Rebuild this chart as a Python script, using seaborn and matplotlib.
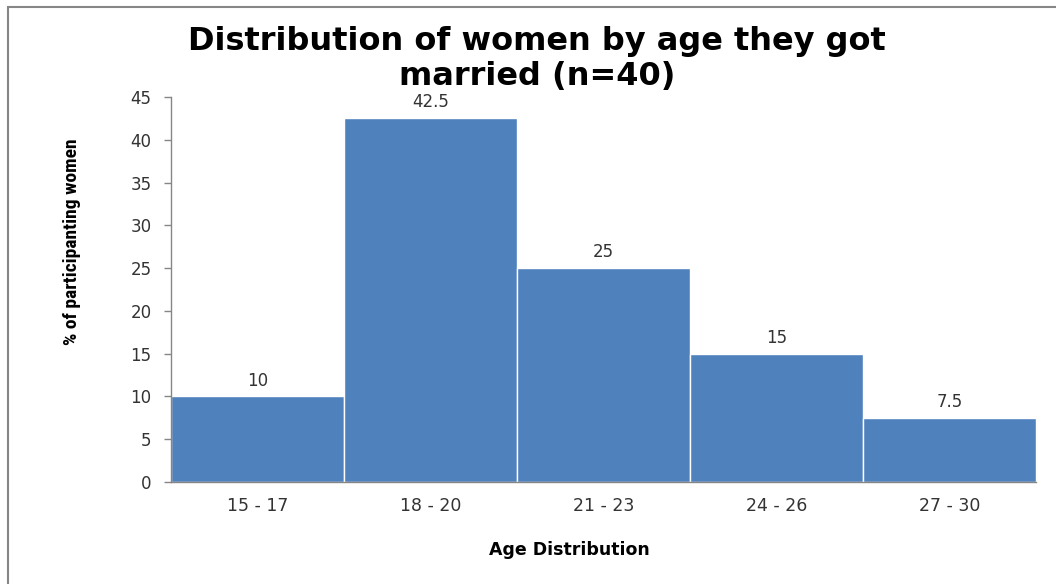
import matplotlib
matplotlib.use("Agg")
import matplotlib.pyplot as plt
import seaborn as sns
import pandas as pd
import numpy as np
from matplotlib.patches import Rectangle

categories = ["15 - 17", "18 - 20", "21 - 23", "24 - 26", "27 - 30"]
percentages = [10, 42.5, 25, 15, 7.5]
value_labels = ["10", "42.5", "25", "15", "7.5"]
y_ticks = [0, 5, 10, 15, 20, 25, 30, 35, 40, 45]

sns.set_theme(style="white")
plt.rcParams['font.family'] = ['DejaVu Sans']

df = pd.DataFrame({"age": categories, "pct": percentages})

fig = plt.figure(figsize=(10.56, 5.84), dpi=100)
ax = fig.add_axes([171/1056, (584-482)/584, (1036-171)/1056, (482-97)/584])

sns.barplot(data=df, x="age", y="pct", order=categories, color="#4F81BD",
            saturation=1, width=1.0, edgecolor="white", linewidth=1, ax=ax)

ax.set_xlim(-0.5, len(categories) - 0.5)
ax.set_ylim(0, 45)
ax.set_yticks(y_ticks)
ax.set_yticklabels([str(t) for t in y_ticks], fontsize=12, color="#333333")

ax.set_xticks(range(len(categories)))
ax.set_xticklabels(categories, fontsize=12.5, color="#333333")
ax.set_xticks(np.arange(-0.5, len(categories)), minor=True)
ax.tick_params(axis="x", which="major", length=0, pad=11)
ax.tick_params(axis="x", which="minor", length=4.5, color="#868686", width=1, direction="out")
ax.tick_params(axis="y", which="major", length=5, color="#868686", width=1, direction="out", left=True, pad=9)

for side in ["top", "right"]:
    ax.spines[side].set_visible(False)
for side in ["left", "bottom"]:
    ax.spines[side].set_color("#868686")
    ax.spines[side].set_linewidth(1)

for i, (v, lab) in enumerate(zip(percentages, value_labels)):
    ax.annotate(lab, (i, v), xytext=(0, 5), textcoords="offset points",
                ha="center", va="bottom", fontsize=12, color="#333333")

ax.set_xlabel("")
ax.set_ylabel("")
fig.text(569/1056, 1 - 550/584, "Age Distribution", ha="center", va="center",
         fontsize=12.5, fontweight="bold", color="black")
fig.text(72/1056, 1 - 242/584, "% of participanting women", ha="center", va="center",
         rotation=90, fontsize=14, fontweight="bold", color="black",
         family=["Liberation Sans Narrow", "Roboto Condensed", "Roboto"])

fig.text(537/1056, 1 - 59/584, "Distribution of women by age they got\nmarried (n=40)",
         ha="center", va="center", fontsize=23, fontweight="bold", linespacing=1.15,
         color="black")

fig.patches.append(Rectangle((8/1056, -0.1), 1.2, 1 - 7/584 + 0.1, transform=fig.transFigure,
                             fill=False, edgecolor="#868686", linewidth=1.5, figure=fig))

fig.savefig("out.png", dpi=100)
